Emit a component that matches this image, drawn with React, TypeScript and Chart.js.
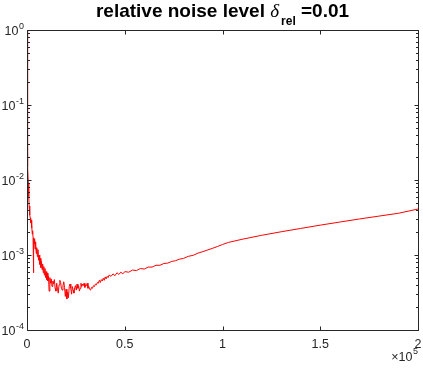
import { useEffect, useRef } from 'react';
import { Chart, registerables } from 'chart.js';

Chart.register(...registerables);

// iteration index (x) and relative error (y)
const xs = [
  0, 150, 300, 500, 700, 900, 1100, 1300, 1500, 1700, 1900, 2100, 2300, 2500, 2700, 2900, 3100, 3300, 3450, 3700,
  3900, 4100, 4400, 4700, 5000, 5300, 5600, 5900, 6200, 6500, 6800, 7100, 7400, 7700, 8000, 8300, 8600, 8900, 9200, 9500,
  9800, 10100, 10400, 10700, 11000, 11300, 11700, 12000, 12400, 12800, 13200, 13600, 14000, 14400, 14800, 15200, 15600, 16000, 16400, 16800,
  17200, 17600, 18000, 18400, 18800, 19200, 19600, 20000, 20400, 20800, 21200, 21600, 22000, 22400, 22800, 23200, 23600, 24000, 24400, 24800,
  25200, 25600, 26000, 26400, 26800, 27200, 27600, 28000, 28400, 28800, 29200, 29600, 30000, 30400, 30800, 31200, 31600, 32000, 32500, 33000,
  33500, 34000, 34500, 35000, 35500, 36000, 36500, 37000, 37500, 38000, 38500, 39000, 39500, 40000, 40500, 41000, 41500, 42000, 43000, 44000,
  45000, 46000, 47000, 48000, 49000, 50000, 52000, 54000, 56000, 58000, 60000, 62000, 64000, 66000, 68000, 70000, 72000, 74000, 76000, 78000,
  80000, 82500, 85000, 87500, 90000, 92500, 95000, 97500, 100000, 103000, 110000, 120000, 130000, 140000, 150000, 160000, 170000, 180000, 190000, 200000,
];
const ys = [
  1.0, 0.1, 0.03, 0.015, 0.009, 0.006, 0.0045, 0.0038, 0.0034, 0.0031, 0.0027, 0.0029, 0.0023, 0.0025, 0.0019, 0.0021, 0.0017, 0.00058, 0.0016, 0.0014,
  0.00165, 0.0012, 0.0015, 0.00105, 0.00125, 0.00095, 0.00118, 0.00085, 0.001, 0.00075, 0.0009, 0.00068, 0.00082, 0.00064, 0.00076, 0.00058, 0.0007, 0.00054, 0.00066, 0.0005,
  0.0006, 0.00047, 0.00057, 0.00045, 0.00052, 0.00033, 0.0005, 0.00042, 0.00048, 0.00038, 0.00045, 0.00041, 0.00047, 0.00036, 0.00033, 0.00042, 0.00035, 0.00031, 0.0004, 0.00046,
  0.00043, 0.00036, 0.00034, 0.00039, 0.00044, 0.00037, 0.00028, 0.00035, 0.00026, 0.00032, 0.00027, 0.00038, 0.00041, 0.00036, 0.0003, 0.00038, 0.00034, 0.00031, 0.00037, 0.00039,
  0.00034, 0.00041, 0.00036, 0.00039, 0.00033, 0.00036, 0.00042, 0.00038, 0.00041, 0.00039, 0.00042, 0.00037, 0.0004, 0.00039, 0.00042, 0.00036, 0.00038, 0.00035, 0.00034, 0.00037,
  0.00036, 0.00039, 0.00038, 0.00041, 0.0004, 0.00043, 0.00042, 0.00046, 0.00043, 0.00047, 0.00045, 0.00049, 0.00046, 0.00051, 0.00048, 0.00052, 0.0005, 0.00054, 0.00052, 0.00056,
  0.00053, 0.00058, 0.00055, 0.00059, 0.00056, 0.0006, 0.00059, 0.00063, 0.00062, 0.00066, 0.00065, 0.00069, 0.00069, 0.00073, 0.00073, 0.00077, 0.00078, 0.00082, 0.00084, 0.00088,
  0.0009, 0.00096, 0.00099, 0.00106, 0.00111, 0.00117, 0.00123, 0.0013, 0.00138, 0.00147, 0.00162, 0.00183, 0.00204, 0.00226, 0.0025, 0.00275, 0.00302, 0.0033, 0.0036, 0.0041,
];

const yTickExponents = [0, -1, -2, -3, -4];
const xTickValues = [0, 50000, 100000, 150000, 200000];
const xTickLabels = ['0', '0.5', '1', '1.5', '2'];
const xExponent = '5';
const titleMain = 'relative noise level ';
const titleSymbol = 'δ';
const titleSub = 'rel';
const titleTail = ' =0.01';

const SANS = '"Liberation Sans", Arial, Helvetica, sans-serif';
const AXIS = '#262626';

const axesPlugin = {
  id: 'matlabAxes',
  afterDraw(chart: any) {
    const ctx: CanvasRenderingContext2D = chart.ctx;
    const { left, right, top, bottom } = chart.chartArea;
    const sx = chart.scales.x;
    const sy = chart.scales.y;
    ctx.save();
    ctx.strokeStyle = AXIS;
    ctx.lineWidth = 1;
    const L = Math.round(left) + 0.5;
    const R = Math.round(right) + 0.5;
    const T = Math.round(top) + 0.5;
    const B = Math.round(bottom) + 0.5;
    ctx.beginPath();
    ctx.rect(L, T, R - L, B - T);
    ctx.stroke();

    const major = 4;
    const minor = 2.5;
    ctx.beginPath();
    for (let e = -4; e <= 0; e++) {
      const yp = Math.round(sy.getPixelForValue(Math.pow(10, e))) + 0.5;
      ctx.moveTo(L, yp); ctx.lineTo(L + major, yp);
      ctx.moveTo(R, yp); ctx.lineTo(R - major, yp);
      if (e < 0) {
        for (let k = 2; k <= 9; k++) {
          const ym = Math.round(sy.getPixelForValue(k * Math.pow(10, e))) + 0.5;
          ctx.moveTo(L, ym); ctx.lineTo(L + minor, ym);
          ctx.moveTo(R, ym); ctx.lineTo(R - minor, ym);
        }
      }
    }
    for (const v of xTickValues) {
      const xp = Math.round(sx.getPixelForValue(v)) + 0.5;
      ctx.moveTo(xp, B); ctx.lineTo(xp, B - major);
      ctx.moveTo(xp, T); ctx.lineTo(xp, T + major);
    }
    ctx.stroke();

    ctx.fillStyle = AXIS;
    ctx.textBaseline = 'alphabetic';
    for (const e of yTickExponents) {
      const yp = sy.getPixelForValue(Math.pow(10, e));
      const sup = String(e);
      ctx.font = `9px ${SANS}`;
      const supW = ctx.measureText(sup).width;
      const rightEdge = left - 3;
      ctx.textAlign = 'left';
      ctx.fillText(sup, rightEdge - supW, yp - 1);
      ctx.font = `12.5px ${SANS}`;
      ctx.textAlign = 'right';
      ctx.fillText('10', rightEdge - supW - 0.5, yp + 5);
    }
    ctx.font = `12.5px ${SANS}`;
    ctx.textAlign = 'center';
    xTickValues.forEach((v, i) => {
      ctx.fillText(xTickLabels[i], sx.getPixelForValue(v), bottom + 18);
    });
    ctx.font = `9px ${SANS}`;
    const eW = ctx.measureText(xExponent).width;
    ctx.textAlign = 'left';
    ctx.fillText(xExponent, right - eW, bottom + 24);
    ctx.font = `12.5px ${SANS}`;
    ctx.textAlign = 'right';
    ctx.fillText('\u00d710', right - eW - 0.5, bottom + 31);

    ctx.fillStyle = '#000';
    ctx.textAlign = 'left';
    const fMain = `bold 19px ${SANS}`;
    const fSym = `italic 19px "Liberation Serif", "Times New Roman", serif`;
    const fSub = `bold 12px ${SANS}`;
    ctx.font = fMain;
    const wMain = ctx.measureText(titleMain).width;
    const wTail = ctx.measureText(titleTail).width;
    ctx.font = fSym;
    const wSym = ctx.measureText(titleSymbol).width;
    ctx.font = fSub;
    const wSub = ctx.measureText(titleSub).width;
    const gap = 2;
    const total = wMain + wSym + gap + wSub + wTail;
    let x = (left + right) / 2 - total / 2;
    const base = 17;
    ctx.font = fMain;
    ctx.fillText(titleMain, x, base);
    x += wMain;
    ctx.font = fSym;
    ctx.fillText(titleSymbol, x, base);
    x += wSym + gap;
    ctx.font = fSub;
    ctx.fillText(titleSub, x, base + 8);
    x += wSub;
    ctx.font = fMain;
    ctx.fillText(titleTail, x, base);
    ctx.restore();
  },
};

export default function App() {
  const ref = useRef<HTMLCanvasElement | null>(null);
  useEffect(() => {
    if (!ref.current) return;
    const data = xs.map((x, i) => ({ x, y: ys[i] }));
    const chart = new Chart(ref.current, {
      type: 'line',
      data: {
        datasets: [
          {
            data,
            borderColor: '#ff0000',
            borderWidth: 1,
            pointRadius: 0,
            tension: 0,
            fill: false,
          },
        ],
      },
      options: {
        responsive: false,
        animation: false,
        events: [],
        layout: { padding: { left: 27, right: 5, top: 30, bottom: 38 } },
        plugins: { legend: { display: false }, title: { display: false }, tooltip: { enabled: false } },
        scales: {
          x: { type: 'linear', min: 0, max: 200000, display: false },
          y: { type: 'logarithmic', min: 1e-4, max: 1, display: false },
        },
      },
      plugins: [axesPlugin],
    });
    return () => chart.destroy();
  }, []);
  return (
    <div style={{ position: 'fixed', left: 0, top: 0, width: 423, height: 368, background: '#fff' }}>
      <canvas ref={ref} width={423} height={368} style={{ display: 'block' }} />
    </div>
  );
}
